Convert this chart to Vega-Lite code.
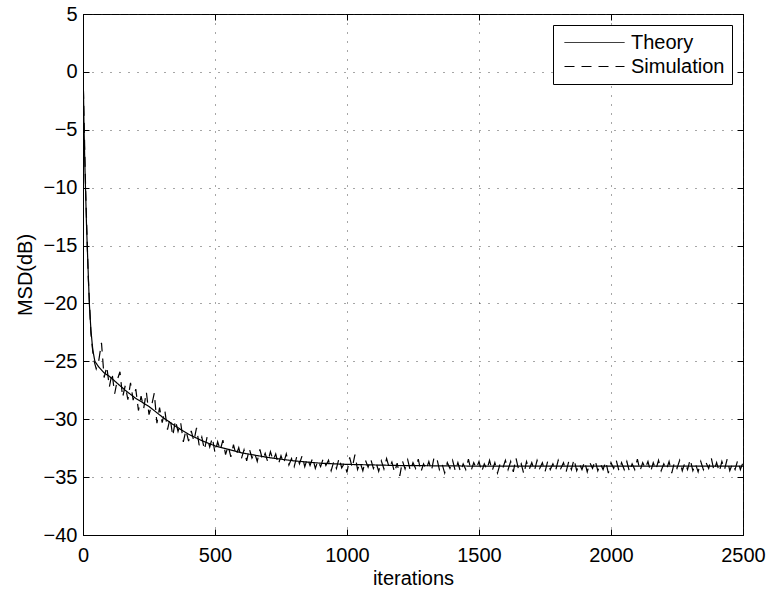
{
  "$schema": "https://vega.github.io/schema/vega-lite/v6.json",
  "autosize": "none",
  "width": 660,
  "height": 521,
  "padding": {"left": 83, "top": 14, "right": 28, "bottom": 57},
  "background": "white",
  "config": {
    "font": "Liberation Sans",
    "view": {"stroke": "black", "strokeWidth": 1},
    "axis": {
      "domainColor": "black",
      "tickColor": "black",
      "labelColor": "black",
      "titleColor": "black",
      "labelFontSize": 20,
      "titleFontSize": 20,
      "titleFontWeight": "normal",
      "labelFlush": false,
      "tickSize": -6,
      "gridColor": "#222",
      "gridDash": [1, 8],
      "gridWidth": 1,
      "gridOpacity": 0.8
    }
  },
  "datasets": {
    "th": [
      {"x":0,"y":0},{"x":2,"y":-2},{"x":4,"y":-5},{"x":7,"y":-8},{"x":10,"y":-10.5},{"x":13,"y":-13},{"x":16,"y":-15},{"x":20,"y":-17.5},{"x":24,"y":-20},{"x":30,"y":-22.3},{"x":37,"y":-24},{"x":45,"y":-25},{"x":60,"y":-25.5},{"x":80,"y":-26},{"x":100,"y":-26.3},{"x":130,"y":-26.9},{"x":160,"y":-27.5},{"x":200,"y":-28.2},{"x":250,"y":-28.9},{"x":300,"y":-29.8},{"x":350,"y":-30.6},{"x":400,"y":-31.3},{"x":450,"y":-31.85},{"x":500,"y":-32.3},{"x":550,"y":-32.6},{"x":600,"y":-32.9},{"x":650,"y":-33.1},{"x":700,"y":-33.3},{"x":800,"y":-33.6},{"x":900,"y":-33.8},{"x":1000,"y":-33.9},{"x":1100,"y":-33.95},{"x":1200,"y":-34},{"x":1500,"y":-34.05},{"x":2000,"y":-34.05},{"x":2500,"y":-34.05}
    ],
    "sim": [
      {"x":0,"y":0},{"x":10,"y":-10.2},{"x":20,"y":-17.8},{"x":30,"y":-22.6},{"x":40,"y":-24.8},
      {"x":50,"y":-25.65},{"x":60,"y":-24.9},{"x":70,"y":-23.4},{"x":80,"y":-26.4},{"x":90,"y":-25.45},{"x":100,"y":-27.2},{"x":110,"y":-26.0},{"x":120,"y":-27.8},{"x":130,"y":-26.6},{"x":140,"y":-25.9},{"x":150,"y":-28.1},{"x":160,"y":-27.1},{"x":170,"y":-28.3},{"x":180,"y":-26.85},{"x":190,"y":-28.35},{"x":200,"y":-27.4},{"x":210,"y":-29.25},{"x":220,"y":-28.0},{"x":230,"y":-29.05},{"x":240,"y":-27.65},{"x":250,"y":-29.6},{"x":260,"y":-28.8},{"x":270,"y":-27.75},{"x":280,"y":-30.35},{"x":290,"y":-29.0},{"x":300,"y":-30.3},
      {"x":310,"y":-29.25},{"x":320,"y":-30.9},{"x":330,"y":-29.9},{"x":340,"y":-31.45},{"x":350,"y":-30.1},{"x":360,"y":-31.05},{"x":370,"y":-30.3},{"x":380,"y":-31.95},{"x":390,"y":-30.95},{"x":400,"y":-31.9},{"x":410,"y":-31.0},{"x":420,"y":-31.9},{"x":430,"y":-30.75},{"x":440,"y":-32.25},{"x":450,"y":-31.55},{"x":460,"y":-32.65},{"x":470,"y":-31.55},{"x":480,"y":-32.4},{"x":490,"y":-31.6},{"x":500,"y":-32.9},
      {"x":510,"y":-31.95},{"x":520,"y":-32.65},{"x":530,"y":-31.8},{"x":540,"y":-33.05},{"x":550,"y":-32.3},{"x":560,"y":-33.25},{"x":570,"y":-32.2},{"x":580,"y":-33.1},{"x":590,"y":-32.45},{"x":600,"y":-33.4},{"x":610,"y":-32.65},{"x":620,"y":-33.6},{"x":630,"y":-32.55},{"x":640,"y":-33.35},{"x":650,"y":-32.9},{"x":660,"y":-33.65},{"x":670,"y":-32.6},{"x":680,"y":-33.5},{"x":690,"y":-32.95},{"x":700,"y":-33.7},
      {"x":710,"y":-32.8},{"x":720,"y":-33.55},{"x":730,"y":-33.0},{"x":740,"y":-33.9},{"x":750,"y":-33.15},{"x":760,"y":-33.8},{"x":770,"y":-33.0},{"x":780,"y":-33.95},{"x":790,"y":-33.4},{"x":800,"y":-34.1},{"x":810,"y":-33.2},{"x":820,"y":-33.85},{"x":830,"y":-33.15},{"x":840,"y":-34.1},{"x":850,"y":-33.4},{"x":860,"y":-34.0},{"x":870,"y":-33.35},{"x":880,"y":-34.25},{"x":890,"y":-33.6},{"x":900,"y":-34.1},
      {"x":910,"y":-33.4},{"x":920,"y":-34.0},{"x":930,"y":-33.55},{"x":940,"y":-34.45},{"x":950,"y":-33.65},{"x":960,"y":-34.25},{"x":970,"y":-33.35},{"x":980,"y":-34.2},{"x":990,"y":-33.8},{"x":1000,"y":-34.6},{"x":1010,"y":-33.3},{"x":1020,"y":-34.2},{"x":1030,"y":-33.05},{"x":1040,"y":-34.35},{"x":1050,"y":-33.75},{"x":1060,"y":-34.45},{"x":1070,"y":-33.55},{"x":1080,"y":-34.15},{"x":1090,"y":-33.45},{"x":1100,"y":-34.25},
      {"x":1110,"y":-33.75},{"x":1120,"y":-34.5},{"x":1130,"y":-33.6},{"x":1140,"y":-34.3},{"x":1150,"y":-33.4},{"x":1160,"y":-34.2},{"x":1170,"y":-33.7},{"x":1180,"y":-34.6},{"x":1190,"y":-33.8},{"x":1200,"y":-34.9},{"x":1210,"y":-33.6},{"x":1220,"y":-34.3},{"x":1230,"y":-33.5},{"x":1240,"y":-34.45},{"x":1250,"y":-33.75},{"x":1260,"y":-34.25},{"x":1270,"y":-33.45},{"x":1280,"y":-34.55},{"x":1290,"y":-33.85},{"x":1300,"y":-34.35},
      {"x":1310,"y":-33.65},{"x":1320,"y":-34.45},{"x":1330,"y":-33.25},{"x":1340,"y":-33.35},{"x":1350,"y":-34.35},{"x":1360,"y":-33.85},{"x":1370,"y":-34.65},{"x":1380,"y":-33.75},{"x":1390,"y":-34.25},{"x":1400,"y":-33.55},{"x":1410,"y":-34.45},{"x":1420,"y":-33.75},{"x":1430,"y":-34.55},{"x":1440,"y":-33.85},{"x":1450,"y":-34.35},{"x":1460,"y":-33.45},{"x":1470,"y":-34.45},{"x":1480,"y":-33.75},{"x":1490,"y":-34.25},{"x":1500,"y":-33.65},
      {"x":1510,"y":-34.55},{"x":1520,"y":-33.85},{"x":1530,"y":-34.35},{"x":1540,"y":-33.55},{"x":1550,"y":-34.45},{"x":1560,"y":-33.75},{"x":1570,"y":-34.65},{"x":1580,"y":-33.85},{"x":1590,"y":-34.25},{"x":1600,"y":-33.55},{"x":1610,"y":-34.35},{"x":1620,"y":-33.65},{"x":1630,"y":-34.55},{"x":1640,"y":-33.35},{"x":1650,"y":-34.35},{"x":1660,"y":-33.85},{"x":1670,"y":-34.75},{"x":1680,"y":-33.65},{"x":1690,"y":-34.35},{"x":1700,"y":-33.75},
      {"x":1710,"y":-34.45},{"x":1720,"y":-33.55},{"x":1730,"y":-34.25},{"x":1740,"y":-33.75},{"x":1750,"y":-34.55},{"x":1760,"y":-33.65},{"x":1770,"y":-34.35},{"x":1780,"y":-33.85},{"x":1790,"y":-34.45},{"x":1800,"y":-33.55},{"x":1810,"y":-34.25},{"x":1820,"y":-33.75},{"x":1830,"y":-34.55},{"x":1840,"y":-33.65},{"x":1850,"y":-34.35},{"x":1860,"y":-33.45},{"x":1870,"y":-34.45},{"x":1880,"y":-33.85},{"x":1890,"y":-34.35},{"x":1900,"y":-33.65},
      {"x":1910,"y":-34.55},{"x":1920,"y":-33.75},{"x":1930,"y":-34.25},{"x":1940,"y":-33.55},{"x":1950,"y":-34.45},{"x":1960,"y":-33.85},{"x":1970,"y":-34.35},{"x":1980,"y":-33.65},{"x":1990,"y":-34.65},{"x":2000,"y":-33.75},{"x":2010,"y":-34.25},{"x":2020,"y":-33.55},{"x":2030,"y":-34.45},{"x":2040,"y":-33.75},{"x":2050,"y":-34.35},{"x":2060,"y":-33.65},{"x":2070,"y":-34.55},{"x":2080,"y":-33.85},{"x":2090,"y":-34.35},{"x":2100,"y":-33.45},
      {"x":2110,"y":-34.45},{"x":2120,"y":-33.75},{"x":2130,"y":-34.25},{"x":2140,"y":-33.65},{"x":2150,"y":-34.55},{"x":2160,"y":-33.75},{"x":2170,"y":-34.35},{"x":2180,"y":-33.55},{"x":2190,"y":-34.45},{"x":2200,"y":-33.85},{"x":2210,"y":-34.35},{"x":2220,"y":-33.65},{"x":2230,"y":-34.65},{"x":2240,"y":-33.75},{"x":2250,"y":-34.25},{"x":2260,"y":-33.55},{"x":2270,"y":-34.45},{"x":2280,"y":-33.75},{"x":2290,"y":-34.35},{"x":2300,"y":-33.45},
      {"x":2310,"y":-34.45},{"x":2320,"y":-33.85},{"x":2330,"y":-34.55},{"x":2340,"y":-33.65},{"x":2350,"y":-34.35},{"x":2360,"y":-33.75},{"x":2370,"y":-34.25},{"x":2380,"y":-33.35},{"x":2390,"y":-34.45},{"x":2400,"y":-33.75},{"x":2410,"y":-34.55},{"x":2420,"y":-33.65},{"x":2430,"y":-34.35},{"x":2440,"y":-33.45},{"x":2450,"y":-34.45},{"x":2460,"y":-33.85},{"x":2470,"y":-34.35},{"x":2480,"y":-33.55},{"x":2490,"y":-34.35},{"x":2500,"y":-33.75}
    ]
  },
  "layer": [
    {
      "data": {"name": "sim"},
      "mark": {"type": "line", "stroke": "black", "strokeWidth": 1.2, "clip": true},
      "encoding": {
        "x": {"field": "x", "type": "quantitative", "scale": {"domain": [0, 2500], "nice": false},
          "axis": {"orient": "top", "values": [0, 500, 1000, 1500, 2000, 2500], "labels": false, "domain": false, "grid": false, "title": null}},
        "y": {"field": "y", "type": "quantitative", "scale": {"domain": [-40, 5], "nice": false},
          "axis": {"orient": "right", "values": [-40, -35, -30, -25, -20, -15, -10, -5, 0, 5], "labels": false, "domain": false, "grid": false, "title": null}},
        "strokeDash": {"datum": "Simulation", "type": "nominal",
          "scale": {"domain": ["Theory", "Simulation"], "range": [[1, 0], [10, 7]]},
          "legend": {"title": null, "orient": "none", "legendX": 470, "legendY": 11,
            "symbolType": "M-0.6,0H5.4", "symbolSize": 400, "symbolStrokeWidth": 1, "symbolStrokeColor": "black", "symbolFillColor": "transparent",
            "labelFontSize": 20, "labelColor": "black", "labelOffset": 50, "rowPadding": 3,
            "padding": 7, "strokeColor": "black", "fillColor": "white", "cornerRadius": 0}}
      }
    },
    {
      "data": {"name": "th"},
      "mark": {"type": "line", "stroke": "black", "strokeWidth": 1.2, "clip": true},
      "encoding": {
        "x": {"field": "x", "type": "quantitative",
          "axis": {"orient": "bottom", "values": [0, 500, 1000, 1500, 2000, 2500], "format": "d", "title": "iterations", "labelPadding": 16, "titlePadding": 3, "grid": true}},
        "y": {"field": "y", "type": "quantitative",
          "axis": {"orient": "left", "values": [-40, -35, -30, -25, -20, -15, -10, -5, 0, 5], "format": "d", "title": "MSD(dB)", "labelPadding": 12, "titlePadding": 8, "grid": true}},
        "strokeDash": {"datum": "Theory", "type": "nominal"}
      }
    }
  ],
  "resolve": {"axis": {"x": "independent", "y": "independent"}}
}
